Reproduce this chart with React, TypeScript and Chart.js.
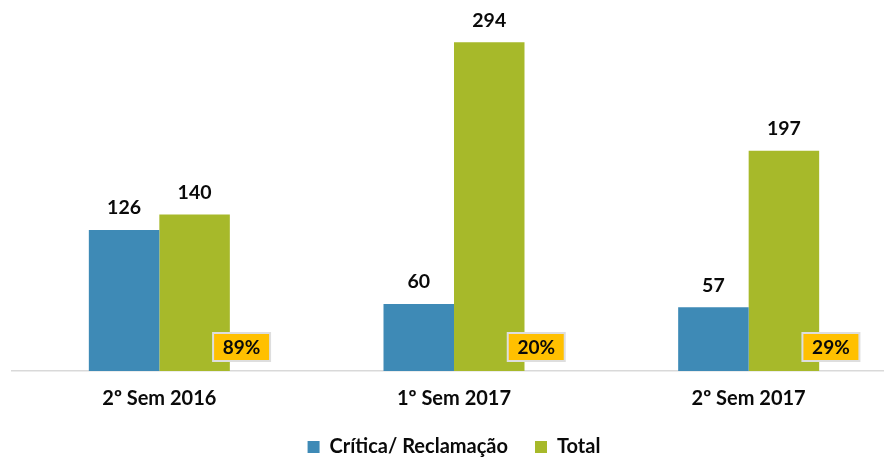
import React, { useEffect, useRef } from 'react';
import { Chart, registerables } from 'chart.js';

Chart.register(...registerables);

const categories = ['2º Sem 2016', '1º Sem 2017', '2º Sem 2017'];
const criticaValues = [126, 60, 57];
const totalValues = [140, 294, 197];
const percentLabels = ['89%', '20%', '29%'];
const seriesNames = ['Crítica/ Reclamação', 'Total'];
const seriesColors = ['#3E8AB6', '#A7B92A'];

const FONT = 'Lato, "Open Sans", sans-serif';

const labelPlugin = {
  id: 'valueLabels',
  afterDatasetsDraw(chart: any) {
    const ctx = chart.ctx;
    ctx.save();
    ctx.textAlign = 'center';
    ctx.textBaseline = 'middle';
    ctx.font = `bold 19.5px ${FONT}`;
    ctx.fillStyle = '#0a0a0a';
    chart.data.datasets.forEach((ds: any, i: number) => {
      const meta = chart.getDatasetMeta(i);
      meta.data.forEach((el: any, j: number) => {
        ctx.fillText(String(ds.data[j]), el.x, el.y - 22);
      });
    });
    const base = chart.scales.y.getPixelForValue(0);
    const meta = chart.getDatasetMeta(1);
    meta.data.forEach((el: any, j: number) => {
      const cx = el.x + 47;
      const cy = base - 24;
      const w = 57;
      const h = 28;
      ctx.fillStyle = '#FFC000';
      ctx.fillRect(cx - w / 2, cy - h / 2, w, h);
      ctx.strokeStyle = '#dedede';
      ctx.lineWidth = 2;
      ctx.strokeRect(cx - w / 2, cy - h / 2, w, h);
      ctx.fillStyle = '#0a0a0a';
      ctx.font = `bold 19px ${FONT}`;
      ctx.fillText(percentLabels[j], cx, cy + 1);
    });
    ctx.restore();
  },
};

export default function App() {
  const ref = useRef<HTMLCanvasElement | null>(null);

  useEffect(() => {
    document.body.style.margin = '0';
    document.body.style.overflow = 'hidden';
    document.documentElement.style.overflow = 'hidden';
    if (!ref.current) return;
    const chart = new Chart(ref.current, {
      type: 'bar',
      data: {
        labels: categories,
        datasets: [
          {
            label: seriesNames[0],
            data: criticaValues,
            backgroundColor: seriesColors[0],
            barPercentage: 1,
            categoryPercentage: 0.4785,
          },
          {
            label: seriesNames[1],
            data: totalValues,
            backgroundColor: seriesColors[1],
            barPercentage: 1,
            categoryPercentage: 0.4785,
          },
        ],
      },
      options: {
        responsive: false,
        animation: false,
        layout: { padding: { left: 12, right: 4, top: 2, bottom: 0 } },
        scales: {
          x: {
            grid: { display: false, drawTicks: false },
            border: { display: true, color: '#d9d9d9', width: 1.5 },
            ticks: {
              color: '#0a0a0a',
              font: { family: FONT, weight: 'bold', size: 20 },
              padding: 16,
            },
            afterFit: (scale: any) => {
              scale.height = 39;
            },
          },
          y: {
            display: false,
            min: 0,
            max: 330,
          },
        },
        plugins: {
          legend: {
            position: 'bottom',
            labels: {
              boxWidth: 12,
              boxHeight: 12,
              padding: 27,
              color: '#0a0a0a',
              font: { family: FONT, weight: 'bold', size: 20 },
            },
          },
          tooltip: { enabled: false },
        },
      },
      plugins: [labelPlugin],
    } as any);
    return () => chart.destroy();
  }, []);

  return (
    <div style={{ position: 'absolute', left: 0, top: 0, width: 900, height: 467 }}>
      <canvas ref={ref} width={900} height={467} style={{ display: 'block' }} />
    </div>
  );
}
